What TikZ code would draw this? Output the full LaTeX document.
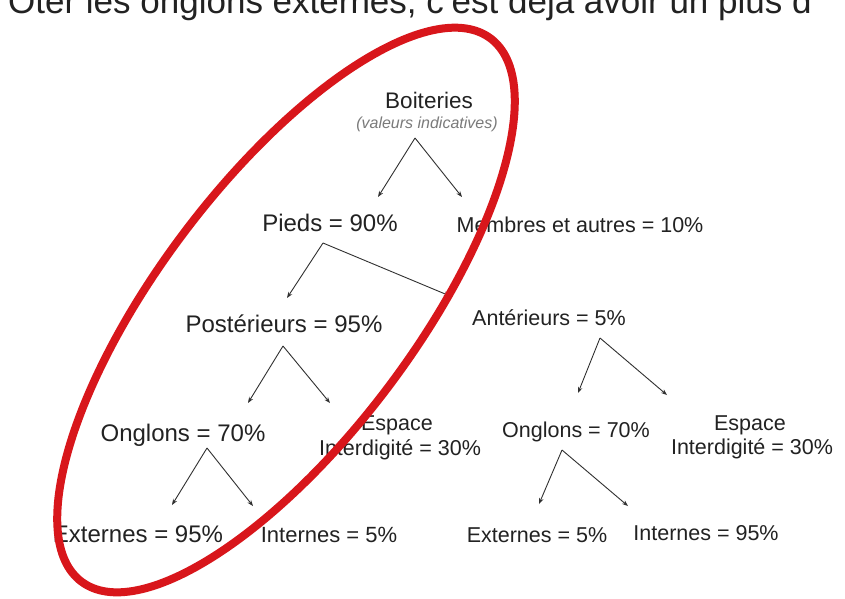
\documentclass[tikz,border=0pt]{standalone}
\usepackage{fontspec}
\setmainfont{Liberation Sans}
\usetikzlibrary{arrows.meta}
\definecolor{txt}{HTML}{222222}
\definecolor{ink}{HTML}{303030}
\definecolor{subtxt}{HTML}{7A7A7A}
\definecolor{marker}{HTML}{D8161B}
\begin{document}
\begin{tikzpicture}[x=1pt,y=-1pt,
  lbl/.style={anchor=base,inner sep=0pt,text=txt,font=\fontsize{24}{28}\selectfont},
  lbs/.style={lbl,font=\fontsize{21.5}{26}\selectfont},
  arr/.style={draw=ink,line width=0.9pt,-{Stealth[length=6pt,width=4.5pt]}}]
\useasboundingbox[fill=white] (0,0) rectangle (845,598);

% cut-off line of text at the top
\node[anchor=base west,inner sep=0pt,text=txt,font=\fontsize{35}{40}\selectfont] (topline) at (8,13)
  {Ôter les onglons externes, c'est déjà avoir un plus d};

% labels
\node[lbl,font=\fontsize{22.5}{27}\selectfont] (boit) at (429,108) {Boiteries};
\node[lbl,text=subtxt,font=\itshape\fontsize{16}{19}\selectfont] (val) at (427,128) {(valeurs indicatives)};
\node[lbl] (pieds) at (330,231) {Pieds = 90\%};
\node[lbs] (membres) at (580,232) {Membres et autres = 10\%};
\node[lbl] (post) at (284,332) {Postérieurs = 95\%};
\node[lbs] (ant) at (549,325) {Antérieurs = 5\%};
\node[lbl] (onglL) at (183,441) {Onglons = 70\%};
\node[lbs] (espL) at (397,430) {Espace};
\node[lbs] (intL) at (400,455) {Interdigité = 30\%};
\node[lbs] (onglR) at (576,437) {Onglons = 70\%};
\node[lbs] (espR) at (750,430) {Espace};
\node[lbs] (intR) at (752,454) {Interdigité = 30\%};
\node[lbl] (extL) at (138,542) {Externes = 95\%};
\node[lbl,font=\fontsize{22}{26}\selectfont] (intnL) at (329,542) {Internes = 5\%};
\node[lbs] (extR) at (537,542) {Externes = 5\%};
\node[lbs] (intnR) at (706,540) {Internes = 95\%};

% connector points
\coordinate (aB) at (415,138); \coordinate (eP) at (378,197); \coordinate (eM) at (462,197);
\coordinate (aP) at (323,243); \coordinate (ePo) at (287,298); \coordinate (eA) at (450,296);
\coordinate (aPo) at (283,346); \coordinate (eOL) at (248,403); \coordinate (eEL) at (330,403);
\coordinate (aA) at (600,338); \coordinate (eOR) at (578,393); \coordinate (eER) at (667,395);
\coordinate (aOL) at (207,448); \coordinate (eXL) at (172,505); \coordinate (eIL) at (253,506);
\coordinate (aOR) at (562,450); \coordinate (eXR) at (539,504); \coordinate (eIR) at (628,506);

\draw[arr] (aB) -- (eP);
\draw[arr] (aB) -- (eM);
\draw[arr] (aP) -- (ePo);
\draw[arr] (aP) -- (eA);
\draw[arr] (aPo) -- (eOL);
\draw[arr] (aPo) -- (eEL);
\draw[arr] (aA) -- (eOR);
\draw[arr] (aA) -- (eER);
\draw[arr] (aOL) -- (eXL);
\draw[arr] (aOL) -- (eIL);
\draw[arr] (aOR) -- (eXR);
\draw[arr] (aOR) -- (eIR);

% red hand-drawn ellipse
\draw[marker,line width=8pt,rotate around={53:(286,310)}] (286,310) ellipse [x radius=340pt,y radius=128pt];
\end{tikzpicture}
\end{document}
